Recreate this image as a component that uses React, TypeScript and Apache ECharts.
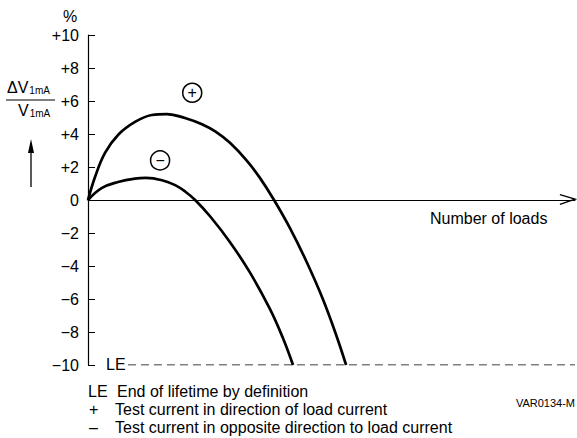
import React, { useEffect, useRef } from "react";
import * as echarts from "echarts";

const yTicks = [-10, -8, -6, -4, -2, 0, 2, 4, 6, 8, 10];
const plusCurve: [number, number][] = [
  [0, 0], [1.44, 1.39], [3.49, 2.85], [6.16, 3.94], [9.65, 4.73], [13.1, 5.15],
  [16.2, 5.21], [19.9, 4.97], [23.4, 4.59], [26.2, 4.14], [29.2, 3.45], [32.6, 2.39],
  [35.3, 1.34], [38.2, 0], [41.5, -1.72], [45.0, -3.82], [48.3, -6.06], [51.1, -8.3], [53.0, -10],
];
const minusCurve: [number, number][] = [
  [0, 0], [2.87, 0.73], [6.16, 1.09], [9.65, 1.3], [11.9, 1.34], [15.2, 1.2],
  [17.9, 0.9], [20.0, 0.5], [22.0, 0], [25.1, -1.0], [29.2, -2.57], [33.3, -4.42],
  [37.4, -6.63], [40.0, -8.35], [42.1, -10],
];
const plusMarker: [number, number] = [21.4, 6.5];
const minusMarker: [number, number] = [14.8, 2.4];
const leLine: [number, number][] = [[8.2, -10], [100, -10]];
const arrowHead: [number, number][] = [[96.9, 0.33], [100, 0.05], [96.9, -0.27]];
const legendRows = [
  ["LE", "End of lifetime by definition"],
  ["+", "Test current in direction of load current"],
  ["–", "Test current in opposite direction to load current"],
];

const sans = "'Liberation Sans', Arial, sans-serif";

export default function App() {
  const ref = useRef<HTMLDivElement>(null);
  useEffect(() => {
    const chart = echarts.init(ref.current!, null, { renderer: "svg" });
    const curveStyle = { color: "#000", width: 2.7 };
    const markerItem = { color: "#fff", borderColor: "#000", borderWidth: 1.5 };
    chart.setOption({
      animation: false,
      backgroundColor: "#fff",
      grid: { left: 88, right: 2, top: 35, bottom: 73 },
      xAxis: {
        type: "value",
        min: 0,
        max: 100,
        axisLine: { onZero: true, lineStyle: { color: "#000", width: 1 } },
        axisTick: { show: false },
        axisLabel: { show: false },
        splitLine: { show: false },
      },
      yAxis: {
        type: "value",
        min: yTicks[0],
        max: yTicks[yTicks.length - 1],
        interval: 2,
        axisLine: { show: true, lineStyle: { color: "#000", width: 1.2 } },
        axisTick: { show: true, inside: true, length: 7, lineStyle: { color: "#000", width: 1 } },
        axisLabel: {
          color: "#000",
          fontFamily: sans,
          fontSize: 16,
          margin: 9,
          formatter: (v: number) => (v > 0 ? "+" + v : v < 0 ? "−" + Math.abs(v) : "0"),
        },
        splitLine: { show: false },
      },
      series: [
        {
          type: "line",
          data: plusCurve,
          smooth: 0.4,
          symbol: "none",
          lineStyle: curveStyle,
          z: 5,
          markPoint: {
            symbol: "circle",
            symbolSize: 19,
            itemStyle: markerItem,
            label: { show: true, formatter: "+", color: "#000", fontSize: 16, fontFamily: sans },
            data: [{ coord: plusMarker }],
          },
        },
        {
          type: "line",
          data: minusCurve,
          smooth: 0.4,
          symbol: "none",
          lineStyle: curveStyle,
          z: 5,
          markPoint: {
            symbol: "circle",
            symbolSize: 19,
            itemStyle: markerItem,
            label: { show: true, formatter: "−", color: "#000", fontSize: 16, fontFamily: sans },
            data: [{ coord: minusMarker }],
          },
        },
        {
          type: "line",
          data: leLine,
          symbol: "none",
          lineStyle: { color: "#000", width: 1.2, type: [8, 5] },
          z: 3,
        },
        {
          type: "custom",
          data: [[0, 0]],
          clip: false,
          z: 6,
          renderItem: (_params: any, api: any) => ({
            type: "polyline",
            shape: { points: arrowHead.map((p) => api.coord(p)) },
            style: { stroke: "#000", lineWidth: 1.3, fill: "none" },
          }),
        },
      ],
      graphic: [
        { type: "text", left: 63, top: 8, style: { text: "%", font: `16px ${sans}`, fill: "#000" } },
        {
          type: "text",
          left: 7,
          top: 79,
          style: {
            text: "{a|ΔV}{s|1mA}",
            rich: {
              a: { fontFamily: sans, fontSize: 16, fill: "#000" },
              s: { fontFamily: sans, fontSize: 10, fill: "#000", padding: [7, 0, 0, 1] },
            },
          },
        },
        { type: "line", shape: { x1: 6, y1: 100, x2: 55, y2: 100 }, style: { stroke: "#000", lineWidth: 1.2 } },
        {
          type: "text",
          left: 18,
          top: 102,
          style: {
            text: "{a|V}{s|1mA}",
            rich: {
              a: { fontFamily: sans, fontSize: 16, fill: "#000" },
              s: { fontFamily: sans, fontSize: 10, fill: "#000", padding: [7, 0, 0, 1] },
            },
          },
        },
        { type: "line", shape: { x1: 31, y1: 187, x2: 31, y2: 150 }, style: { stroke: "#000", lineWidth: 1.3 } },
        { type: "polygon", shape: { points: [[31, 139], [28, 153], [34, 153]] }, style: { fill: "#000" } },
        { type: "text", left: 430, top: 210, style: { text: "Number of loads", font: `16px ${sans}`, fill: "#000" } },
        { type: "text", left: 106, top: 356, style: { text: "LE", font: `16px ${sans}`, fill: "#000" } },
        { type: "text", left: 88, top: 383, style: { text: legendRows[0][0], font: `16px ${sans}`, fill: "#000" } },
        { type: "text", left: 117, top: 383, style: { text: legendRows[0][1], font: `16px ${sans}`, fill: "#000" } },
        { type: "text", left: 89, top: 401, style: { text: legendRows[1][0], font: `16px ${sans}`, fill: "#000" } },
        { type: "text", left: 115, top: 401, style: { text: legendRows[1][1], font: `16px ${sans}`, fill: "#000" } },
        { type: "text", left: 89, top: 419, style: { text: legendRows[2][0], font: `16px ${sans}`, fill: "#000" } },
        { type: "text", left: 115, top: 419, style: { text: legendRows[2][1], font: `16px ${sans}`, fill: "#000" } },
        { type: "text", right: 2, top: 397, style: { text: "VAR0134-M", font: `11px ${sans}`, fill: "#000" } },
      ],
    });
    return () => chart.dispose();
  }, []);
  return <div ref={ref} style={{ width: 577, height: 438, position: "absolute", left: 0, top: 0 }} />;
}
